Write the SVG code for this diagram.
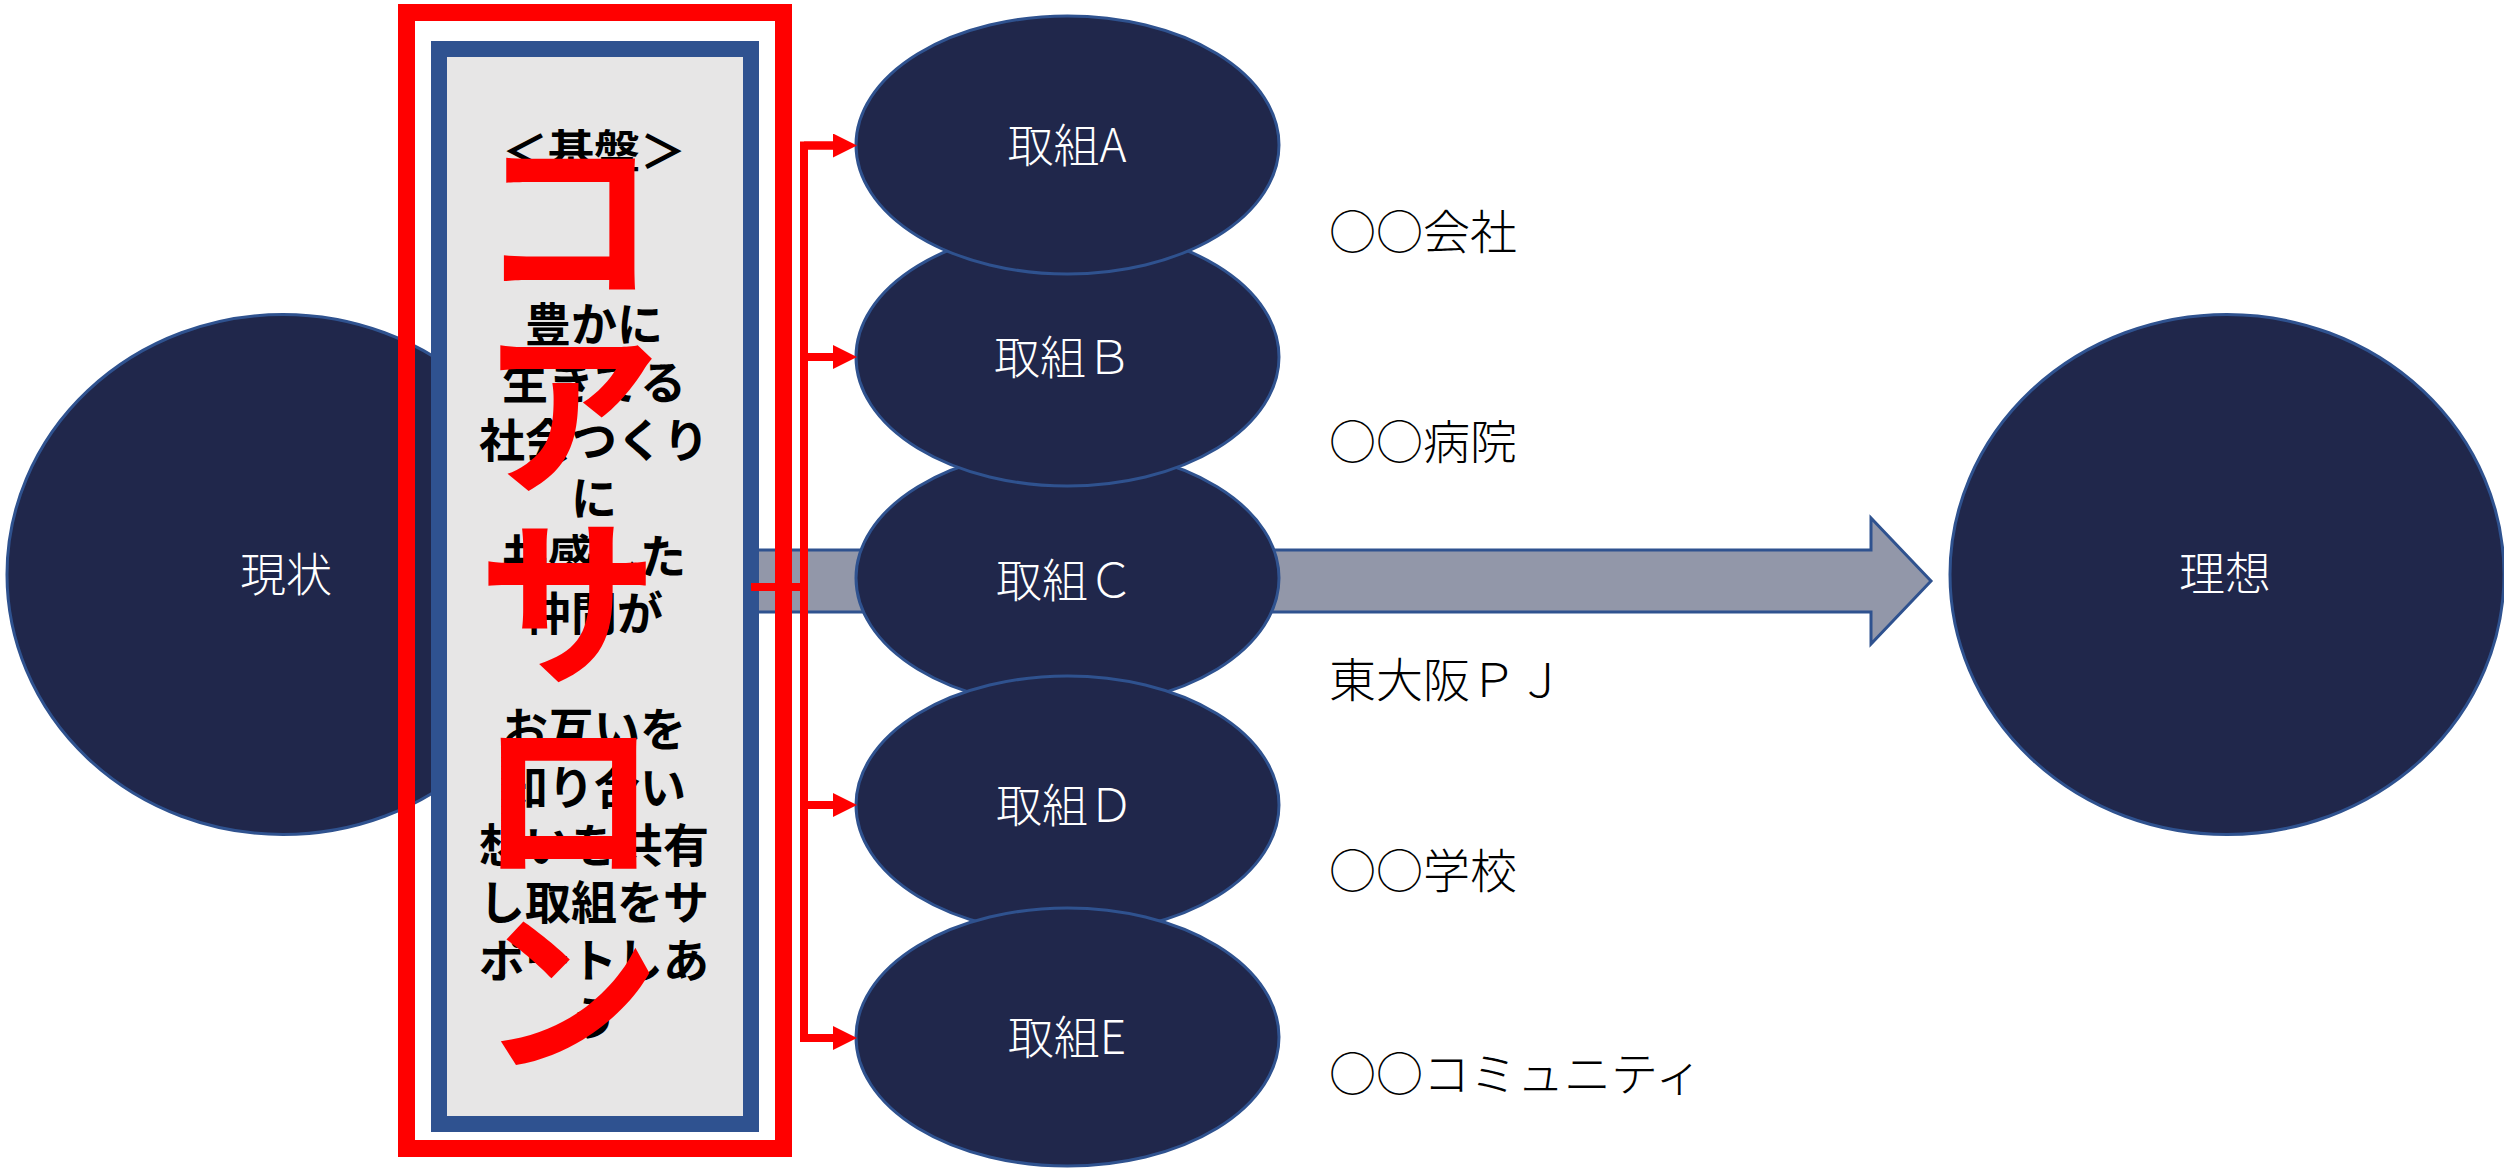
<svg xmlns="http://www.w3.org/2000/svg" width="2504" height="1168" viewBox="0 0 2504 1168">
<style>
.el{fill:#20274b;stroke:#2f528f;stroke-width:3}
.wl{fill:#ffffff;font-family:'Noto Sans CJK JP','Noto Sans',sans-serif;font-weight:300;font-size:46px;text-anchor:middle}
.bt{fill:#000000;font-family:'Noto Sans CJK JP','Noto Sans',sans-serif;font-weight:700;font-size:46px;text-anchor:middle}
.rt{fill:#ff0000;font-family:'Noto Sans CJK JP','Noto Sans',sans-serif;font-weight:700;font-size:180px;text-anchor:middle}
.lb{fill:#000000;font-family:'Noto Sans CJK JP','Noto Sans',sans-serif;font-weight:300;font-size:47px}
.rc{fill:none;stroke:#ff0000;stroke-width:8}
</style>
<defs>
<marker id="ah" markerUnits="userSpaceOnUse" markerWidth="24" markerHeight="24" refX="0" refY="12" orient="auto">
<path d="M0,0 L24,12 L0,24 z" fill="#ff0000"/>
</marker>
</defs>
<rect x="0" y="0" width="2504" height="1168" fill="#ffffff"/>
<g id="genjo">
<ellipse class="el" cx="283" cy="574.5" rx="276" ry="260"/>
<text class="wl" x="286" y="591">現状</text>
</g>
<g id="riso">
<ellipse class="el" cx="2227" cy="574.5" rx="277" ry="260"/>
<text class="wl" x="2225" y="590">理想</text>
</g>
<g id="arrow">
<path d="M745,550 H1871 V518 L1931,581 L1871,644 V612 H745 Z" fill="#9297a9" stroke="#2f528f" stroke-width="3"/>
</g>
<g id="core">
<rect x="406.5" y="12.5" width="377" height="1136" fill="none" stroke="#ff0000" stroke-width="17"/>
<rect x="439" y="49" width="312" height="1075" fill="#e7e6e6" stroke="#2f5290" stroke-width="16"/>
<text class="bt" x="594" y="168">＜基盤＞</text>
<text class="bt" x="594" y="341">豊かに</text>
<text class="bt" x="594" y="399">生きてる</text>
<text class="bt" x="594" y="457">社会つくり</text>
<text class="bt" x="594" y="515">に</text>
<text class="bt" x="594" y="573">共感した</text>
<text class="bt" x="594" y="630">仲間が</text>
<text class="bt" x="594" y="746">お互いを</text>
<text class="bt" x="594" y="804">知り合い</text>
<text class="bt" x="594" y="862">想いを共有</text>
<text class="bt" x="594" y="919">し取組をサ</text>
<text class="bt" x="594" y="977">ポートしあ</text>
<text class="bt" x="594" y="1035">う</text>
<text class="rt" x="568" y="285">コ</text>
<text class="rt" x="570" y="480">ア</text>
<text class="rt" x="568" y="670">サ</text>
<text class="rt" x="568" y="865">ロ</text>
<text class="rt" x="570" y="1058">ン</text>
</g>
<g id="torikumiC">
<ellipse class="el" cx="1067.5" cy="578" rx="211.5" ry="129"/>
<text class="wl" x="1065" y="597">取組Ｃ</text>
</g>
<g id="torikumiB">
<ellipse class="el" cx="1067.5" cy="357" rx="211.5" ry="129"/>
<text class="wl" x="1063" y="374">取組Ｂ</text>
</g>
<g id="torikumiA">
<ellipse class="el" cx="1067.5" cy="145" rx="211.5" ry="129"/>
<text class="wl" x="1067" y="162">取組A</text>
</g>
<g id="torikumiD">
<ellipse class="el" cx="1067.5" cy="805" rx="211.5" ry="129"/>
<text class="wl" x="1065" y="822">取組Ｄ</text>
</g>
<g id="torikumiE">
<ellipse class="el" cx="1067.5" cy="1037" rx="211.5" ry="129"/>
<text class="wl" x="1067" y="1054">取組E</text>
</g>
<g id="connectors">
<path class="rc" d="M833,145.5 H804 V1038 H833" marker-end="url(#ah)"/>
<line class="rc" x1="804" y1="145.5" x2="833" y2="145.5" marker-end="url(#ah)"/>
<line class="rc" x1="804" y1="357" x2="833" y2="357" marker-end="url(#ah)"/>
<line class="rc" x1="804" y1="805" x2="833" y2="805" marker-end="url(#ah)"/>
<line class="rc" x1="751" y1="587" x2="804" y2="587"/>
</g>
<g id="labels">
<text class="lb" x="1329" y="249">○○会社</text>
<text class="lb" x="1329" y="459">○○病院</text>
<text class="lb" x="1329" y="697">東大阪ＰＪ</text>
<text class="lb" x="1329" y="888">○○学校</text>
<text class="lb" x="1329" y="1091">○○コミュニティ</text>
</g>
</svg>
